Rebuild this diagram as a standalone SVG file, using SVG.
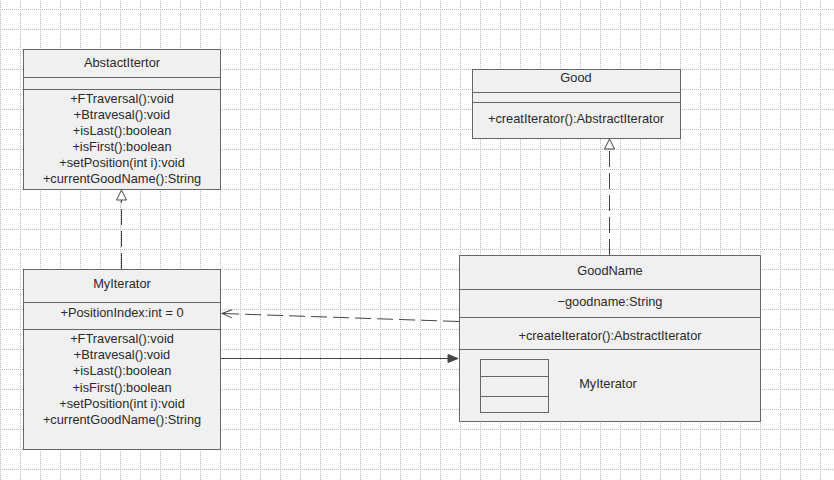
<svg xmlns="http://www.w3.org/2000/svg" width="834" height="480" viewBox="0 0 834 480">
<style>
.box{fill:#f0f0f0;stroke:#666;stroke-width:1}
.sep{stroke:#666;stroke-width:1;fill:none}
text{font-family:"Liberation Sans",Arial,sans-serif;font-size:12.8px;fill:#2a2a2a;text-anchor:middle}
.conn{stroke:#444;stroke-width:1;fill:none}
.dash{stroke-dasharray:16,6}
</style>
<defs>
<pattern id="grid" patternUnits="userSpaceOnUse" x="0" y="9" width="20" height="20">
<line x1="0.5" y1="0" x2="0.5" y2="20" stroke="#b8b8b8" stroke-width="1" stroke-dasharray="1,1"/>
<line x1="0" y1="0.5" x2="20" y2="0.5" stroke="#b8b8b8" stroke-width="1" stroke-dasharray="1,1"/>
</pattern>
<marker id="tri" viewBox="0 0 12 12" refX="11" refY="6" markerWidth="12" markerHeight="12" markerUnits="userSpaceOnUse" orient="auto">
<path d="M1,1 L11,6 L1,11 Z" fill="#fff" stroke="#444"/>
</marker>
<marker id="open" viewBox="0 0 12 10" refX="11" refY="5" markerWidth="12" markerHeight="10" markerUnits="userSpaceOnUse" orient="auto">
<path d="M1,1 L11,5 L1,9" fill="none" stroke="#444"/>
</marker>
<marker id="fill" viewBox="0 0 12 10" refX="11" refY="5" markerWidth="12" markerHeight="10" markerUnits="userSpaceOnUse" orient="auto">
<path d="M1,1 L11,5 L1,9 Z" fill="#444" stroke="#444"/>
</marker>
</defs>
<rect width="834" height="480" fill="#fff"/>
<rect width="834" height="480" fill="url(#grid)"/>

<g id="connectors">
<line class="conn dash" x1="121.5" y1="269" x2="121.5" y2="190" marker-end="url(#tri)"/>
<line class="conn dash" x1="609.5" y1="255" x2="609.5" y2="139" marker-end="url(#tri)"/>
<line class="conn dash" x1="459" y1="321.5" x2="222" y2="313.5" marker-end="url(#open)"/>
<line class="conn" x1="221" y1="358.5" x2="458" y2="358.5" marker-end="url(#fill)"/>
</g>

<g id="AbstactItertor">
<rect class="box" x="23.5" y="49.5" width="197" height="140"/>
<line class="sep" x1="23.5" y1="77.5" x2="220.5" y2="77.5"/>
<line class="sep" x1="23.5" y1="89.5" x2="220.5" y2="89.5"/>
<text x="122" y="67">AbstactItertor</text>
<text x="122" y="103">+FTraversal():void</text>
<text x="122" y="119">+Btravesal():void</text>
<text x="122" y="135">+isLast():boolean</text>
<text x="122" y="151">+isFirst():boolean</text>
<text x="122" y="167">+setPosition(int i):void</text>
<text x="122" y="183">+currentGoodName():String</text>
</g>

<g id="Good">
<rect class="box" x="472.5" y="69.5" width="208" height="69"/>
<line class="sep" x1="472.5" y1="92.5" x2="680.5" y2="92.5"/>
<line class="sep" x1="472.5" y1="102.5" x2="680.5" y2="102.5"/>
<text x="576" y="82">Good</text>
<text x="576" y="123">+creatIterator():AbstractIterator</text>
</g>

<g id="MyIterator">
<rect class="box" x="23.5" y="269.5" width="197" height="180"/>
<line class="sep" x1="23.5" y1="302.5" x2="220.5" y2="302.5"/>
<line class="sep" x1="23.5" y1="329.5" x2="220.5" y2="329.5"/>
<text x="122" y="288">MyIterator</text>
<text x="122" y="317">+PositionIndex:int = 0</text>
<text x="122" y="343">+FTraversal():void</text>
<text x="122" y="359">+Btravesal():void</text>
<text x="122" y="375">+isLast():boolean</text>
<text x="122" y="392">+isFirst():boolean</text>
<text x="122" y="408">+setPosition(int i):void</text>
<text x="122" y="424">+currentGoodName():String</text>
</g>

<g id="GoodName">
<rect class="box" x="459.5" y="255.5" width="301" height="166"/>
<line class="sep" x1="459.5" y1="289.5" x2="760.5" y2="289.5"/>
<line class="sep" x1="459.5" y1="317.5" x2="760.5" y2="317.5"/>
<line class="sep" x1="459.5" y1="349.5" x2="760.5" y2="349.5"/>
<text x="610" y="275">GoodName</text>
<text x="610" y="306">−goodname:String</text>
<text x="610" y="340">+createIterator():AbstractIterator</text>
<rect class="box" x="480.5" y="359.5" width="68" height="53"/>
<line class="sep" x1="480.5" y1="376.5" x2="548.5" y2="376.5"/>
<line class="sep" x1="480.5" y1="396.5" x2="548.5" y2="396.5"/>
<text x="608" y="388">MyIterator</text>
</g>
</svg>
